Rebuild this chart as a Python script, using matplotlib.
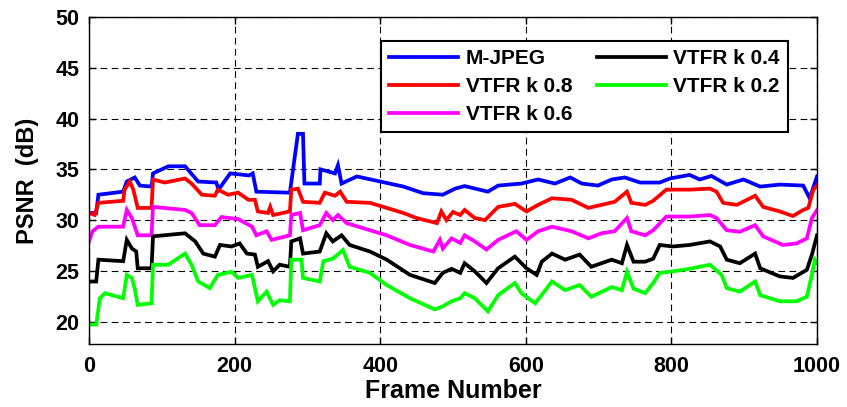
import numpy as np
import matplotlib.pyplot as plt

plt.rcParams['font.family'] = ['Liberation Sans', 'DejaVu Sans']
plt.rcParams['font.weight'] = 'bold'

# values (frame, PSNR dB)
mjpegX = [0, 10, 13, 47, 52, 63, 70, 86, 88, 109, 132, 150, 175, 178, 194, 220, 225, 230,
          276, 287, 294, 296, 317, 318, 338, 342, 347, 368, 400, 432, 459, 486, 503, 516,
          548, 562, 594, 617, 640, 661, 677, 699, 718, 736, 757, 784, 798, 825, 839, 855,
          876, 899, 922, 949, 981, 990, 1000]
mjpegY = [30.7, 30.7, 32.5, 32.8, 33.8, 34.2, 33.4, 33.3, 34.6, 35.3, 35.3, 33.8, 33.7, 33.0,
          34.6, 34.4, 34.6, 32.8, 32.7, 38.5, 38.5, 33.6, 33.6, 35.0, 34.6, 35.4, 33.6, 34.3,
          33.8, 33.3, 32.65, 32.5, 33.1, 33.35, 32.8, 33.4, 33.6, 34.0, 33.6, 34.2, 33.6, 33.4,
          34.0, 34.2, 33.7, 33.7, 34.1, 34.45, 34.0, 34.35, 33.5, 34.0, 33.3, 33.5, 33.4,
          32.15, 34.3]

k08X = [0, 8, 13, 47, 49, 56, 61, 67, 86, 88, 104, 132, 141, 155, 173, 177, 191, 205, 219,
        228, 232, 246, 249, 253, 276, 278, 287, 294, 317, 324, 338, 345, 354, 386, 409, 432,
        450, 478, 484, 491, 500, 510, 516, 530, 544, 562, 585, 601, 617, 636, 663, 686, 704,
        722, 739, 745, 764, 775, 793, 825, 853, 862, 871, 890, 915, 926, 949, 967, 981, 988,
        995, 1000]
k08Y = [30.7, 30.5, 31.7, 31.9, 33.0, 33.8, 33.0, 31.2, 31.2, 34.0, 33.7, 34.1, 33.6, 32.5,
        32.4, 33.0, 32.5, 32.7, 32.0, 32.0, 30.85, 30.7, 31.3, 30.5, 30.85, 33.0, 33.1, 31.8,
        31.7, 32.7, 32.4, 32.8, 31.8, 31.7, 31.2, 30.7, 30.2, 29.7, 30.85, 30.0, 30.8, 30.5,
        31.0, 30.2, 30.0, 31.3, 31.6, 30.85, 31.5, 32.15, 32.0, 31.2, 31.5, 31.8, 32.8, 31.7,
        31.5, 31.9, 33.0, 33.0, 33.1, 32.8, 31.7, 31.5, 32.4, 31.3, 30.85, 30.4, 31.0, 31.2,
        33.0, 33.4]

k06X = [0, 5, 13, 47, 52, 59, 67, 86, 88, 132, 141, 152, 173, 182, 205, 224, 230, 244, 251,
        276, 278, 290, 294, 317, 326, 335, 342, 354, 386, 409, 441, 473, 482, 486, 498, 510,
        516, 530, 546, 562, 587, 601, 617, 636, 663, 686, 704, 722, 739, 745, 764, 775, 793,
        825, 853, 862, 876, 894, 915, 926, 953, 972, 986, 993, 1000]
k06Y = [27.9, 28.9, 29.35, 29.35, 31.0, 30.2, 28.5, 28.5, 31.3, 31.0, 30.7, 29.5, 29.5, 30.3,
        30.1, 29.35, 28.5, 28.9, 28.05, 28.5, 30.5, 30.7, 29.0, 29.5, 30.7, 30.0, 30.5, 29.7,
        29.0, 28.5, 27.55, 26.9, 28.05, 27.2, 28.2, 27.75, 28.5, 27.9, 27.1, 28.05, 28.9,
        28.05, 28.9, 29.35, 28.9, 28.2, 28.7, 28.9, 30.2, 28.9, 28.5, 29.0, 30.35, 30.35, 30.5,
        30.2, 29.0, 28.85, 29.5, 28.4, 27.55, 27.7, 28.2, 30.2, 31.0]

k04X = [0, 10, 13, 47, 52, 59, 65, 67, 86, 88, 132, 146, 157, 173, 180, 196, 207, 217, 228,
        232, 246, 253, 262, 276, 278, 290, 294, 317, 326, 335, 347, 358, 386, 409, 441, 475,
        486, 498, 510, 516, 530, 546, 562, 585, 601, 615, 622, 636, 654, 674, 690, 718, 732,
        739, 748, 764, 775, 784, 802, 825, 853, 867, 876, 894, 915, 922, 949, 967, 986, 993,
        1000]
k04Y = [23.95, 23.95, 26.1, 25.95, 28.05, 27.2, 26.9, 25.25, 25.25, 28.4, 28.7, 27.9, 26.7,
        26.4, 27.55, 27.4, 27.7, 26.7, 26.6, 25.4, 25.95, 24.95, 25.6, 25.4, 27.9, 28.2, 26.7,
        26.9, 28.7, 27.9, 28.5, 27.55, 26.9, 26.1, 24.6, 23.8, 24.8, 25.2, 24.8, 25.75, 24.95,
        23.8, 25.25, 26.4, 25.25, 24.6, 25.9, 26.7, 26.1, 26.6, 25.4, 26.1, 25.75, 27.55, 25.9,
        25.9, 26.2, 27.55, 27.4, 27.55, 27.9, 27.4, 26.1, 25.75, 26.7, 25.25, 24.45, 24.3,
        25.1, 26.6, 28.5]

k02X = [0, 10, 15, 22, 47, 52, 59, 63, 67, 86, 88, 109, 132, 141, 150, 166, 177, 196, 205,
        224, 232, 244, 253, 262, 276, 278, 292, 294, 317, 322, 335, 349, 358, 386, 409, 441,
        475, 486, 498, 510, 516, 530, 548, 562, 585, 594, 613, 636, 654, 674, 690, 718, 732,
        739, 748, 764, 775, 784, 802, 825, 853, 869, 876, 894, 915, 922, 949, 972, 986, 993,
        997, 1000]
k02Y = [19.7, 19.7, 22.3, 22.8, 22.3, 24.6, 24.3, 23.2, 21.65, 21.8, 25.6, 25.6, 26.7, 25.6,
        23.95, 23.3, 24.6, 24.9, 24.3, 24.6, 22.0, 22.95, 21.65, 22.1, 22.0, 26.1, 26.1, 24.3,
        23.95, 25.95, 26.2, 27.05, 25.4, 24.8, 23.6, 22.3, 21.2, 21.5, 22.0, 22.3, 22.8, 22.3,
        21.0, 22.6, 23.8, 22.8, 21.8, 23.95, 23.1, 23.6, 22.45, 23.4, 23.1, 24.9, 23.25, 22.8,
        23.8, 24.8, 24.95, 25.2, 25.6, 24.6, 23.3, 22.95, 23.95, 22.6, 22.0, 22.0, 22.45, 24.6,
        26.1, 25.8]

labels = ['M-JPEG', 'VTFR k 0.8', 'VTFR k 0.6', 'VTFR k 0.4', 'VTFR k 0.2']
colors = ['#0000ff', '#ff0000', '#ff00ff', '#000000', '#00ff00']
xTicks = [0, 200, 400, 600, 800, 1000]
yTicks = [20, 25, 30, 35, 40, 45, 50]

fig = plt.figure(figsize=(8.47, 4.07), dpi=100)
ax = fig.add_axes([0.105, 0.155, 0.8596, 0.803])

for x, y, lab, col in zip([mjpegX, k08X, k06X, k04X, k02X],
                          [mjpegY, k08Y, k06Y, k04Y, k02Y], labels, colors):
    ax.plot(x, y, color=col, linewidth=2.7, label=lab, solid_joinstyle='miter')

ax.set_xlim(0, 1000)
ax.set_ylim(17.8, 50)
ax.set_xticks(xTicks)
ax.set_yticks(yTicks)
ax.tick_params(direction='in', length=5, width=1, labelsize=15.5, top=True, right=True)
ax.tick_params(axis='x', pad=9)
ax.tick_params(axis='y', pad=7)
for lab in ax.get_xticklabels() + ax.get_yticklabels():
    lab.set_fontweight('bold')
ax.grid(True, color='black', linestyle=(0, (6, 4)), linewidth=0.8)
for sp in ax.spines.values():
    sp.set_linewidth(1.0)

ax.set_xlabel('Frame Number', fontsize=18, fontweight='bold', labelpad=1)
ax.set_ylabel('PSNR  (dB)', fontsize=17, fontweight='bold', labelpad=12)

leg = ax.legend(ncol=2, loc='upper right', bbox_to_anchor=(0.960, 0.9266), borderaxespad=0,
                fontsize=15, handlelength=3.3, handletextpad=0.35, columnspacing=1.2,
                fancybox=False, framealpha=1, edgecolor='black', labelspacing=0.42,
                borderpad=0.4)
leg.get_frame().set_linewidth(1.5)
for t in leg.get_texts():
    t.set_fontweight('bold')

fig.savefig('out.png', dpi=100)
